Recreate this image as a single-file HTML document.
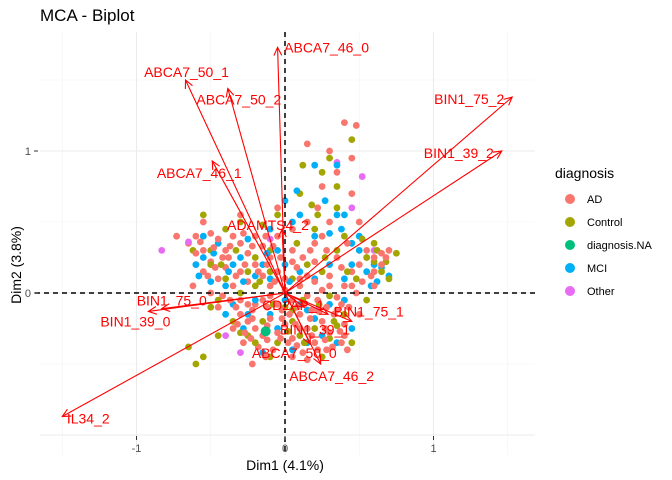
<!DOCTYPE html>
<html><head><meta charset="utf-8"><style>
body{margin:0;background:#fff;}
svg{display:block;font-family:"Liberation Sans",sans-serif;}
</style></head><body>
<svg id="chart" width="672" height="480" viewBox="0 0 672 480" xmlns="http://www.w3.org/2000/svg">
<text x="40" y="21" font-size="17" fill="#000">MCA - Biplot</text>
<g id="grid"></g>
<g id="points"></g>
<g id="refs"></g>
<g id="arrows"></g>
<g id="axes"></g>
<text x="285" y="470" font-size="14" text-anchor="middle" fill="#000">Dim1 (4.1%)</text>
<text x="0" y="0" font-size="14" text-anchor="middle" fill="#000" transform="translate(21,265) rotate(-90)">Dim2 (3.8%)</text>
<g id="legend">
<text x="555" y="178" font-size="14" fill="#000">diagnosis</text>
</g>
</svg>
<script>
const xTicks = [-1, 0, 1];
const yTicks = [0, 1];
const xMinor = [-1.5, -0.5, 0.5, 1.5];
const yMinor = [-0.5, 0.5, 1.5];
const groups = ["AD", "Control", "diagnosis.NA", "MCI", "Other"];
const groupColors = ["#F8766D", "#A3A500", "#00BF7D", "#00B0F6", "#E76BF3"];
const adPts = "-0.65,0.35;-0.6,0.4;-0.55,0.3;-0.5,0.42;-0.45,0.38;-0.4,0.3;-0.35,0.4;-0.3,0.35;-0.25,0.28;-0.2,0.4;-0.15,0.33;-0.1,0.25;-0.6,0.2;-0.55,0.15;-0.5,0.22;-0.45,0.1;-0.4,0.18;-0.35,0.05;-0.3,0.15;-0.25,0.08;-0.2,0.2;-0.15,0.12;-0.1,0.05;-0.05,0.15;-0.62,0.05;-0.5,0.0;-0.42,-0.02;-0.3,-0.05;-0.2,-0.08;-0.1,-0.02;0,0.02;0.05,-0.05;0.1,0.05;0.15,-0.02;0.2,0.08;0.25,0.02;0.3,0.12;0.35,-0.03;0.4,0.05;0.45,0.15;-0.3,-0.15;-0.25,-0.2;-0.2,-0.25;-0.15,-0.3;-0.1,-0.18;-0.05,-0.28;0,-0.22;0.05,-0.32;0.1,-0.15;0.15,-0.25;0.2,-0.35;0.25,-0.2;0.3,-0.28;0.35,-0.12;0.4,-0.22;-0.35,-0.25;-0.28,-0.35;-0.18,-0.38;-0.08,-0.4;0.02,-0.35;0.12,-0.42;0.22,-0.4;0.32,-0.38;0.4,-0.3;-0.12,-0.1;0.08,-0.1;0.18,-0.12;-0.22,-0.12;0.28,0.3;0.35,0.25;0.42,0.35;0.2,0.35;0.12,0.25;0.05,0.3;-0.05,0.4;0.05,0.45;0.15,0.5;0.3,0.5;0.55,0.3;0.6,0.25;0.65,0.2;0.7,0.3;0.5,0.2;0.58,0.12;0.25,0.75;0.35,0.85;0.45,0.95;0.3,1.0;0.15,1.05;0.4,1.2;0.48,1.18;-0.73,0.4;-0.55,0.5;-0.3,0.55;-0.05,0.6;0.22,0.6;0.5,0.5;0.45,0.7;-0.45,-0.1;0.5,-0.15;0.48,0.0;-0.6,0.28;-0.38,0.25;0.0,0.1;0.08,0.18;-0.02,-0.12;0.38,-0.08;0.6,0.05;0.05,-0.45;-0.22,-0.5;0.42,-0.4;0.28,-0.1;0.15,0.12;-0.27,-0.28;-0.12,-0.33;0.1,-0.25;0.27,-0.33;-0.33,-0.1;0.22,-0.05;0.68,0.25;-0.57,0.36;-0.48,0.32;-0.42,0.25;-0.37,0.33;-0.28,0.42;-0.22,0.33;-0.13,0.4;-0.08,0.33;-0.52,0.12;-0.47,0.18;-0.33,0.12;-0.27,0.2;-0.18,0.15;-0.12,0.2;-0.07,0.08;-0.37,-0.05;-0.25,-0.08;-0.15,-0.05;-0.05,-0.08;0.03,-0.15;0.13,-0.08;0.23,-0.13;0.33,-0.15;0.43,-0.1;-0.32,-0.22;-0.22,-0.18;-0.12,-0.23;-0.02,-0.18;0.07,-0.22;0.17,-0.18;0.27,-0.25;0.37,-0.27;-0.23,-0.32;-0.03,-0.32;0.08,-0.37;0.18,-0.3;0.28,-0.4;0.38,-0.35;-0.13,-0.45;0.15,-0.47;0.1,0.1;0.2,0.22;0.3,0.05;0.38,0.18;0.45,0.05;0.52,0.08;0.6,0.15;0.65,0.28;0.17,0.3;0.25,0.4;0.05,0.22;-0.03,0.25";
const controlPts = "-0.55,0.55;-0.5,0.3;-0.4,0.45;-0.3,0.5;-0.25,0.15;-0.15,0.48;-0.05,0.55;0.1,0.7;0.18,0.62;0.35,0.6;0.45,1.08;0.3,0.95;0.25,0.85;0.35,0.75;-0.5,-0.1;-0.35,-0.2;-0.25,-0.3;-0.55,-0.45;-0.65,-0.38;-0.6,-0.5;-0.45,-0.3;-0.15,-0.2;-0.05,-0.35;0.05,-0.2;0.1,-0.3;0.2,-0.25;0.3,-0.32;0.4,-0.15;0.45,-0.35;0.05,0.1;0.15,0.2;0.25,0.15;0.35,0.3;0.55,0.25;0.62,0.3;0.68,0.22;0.75,0.28;0.65,0.15;0.52,0.38;0.55,-0.05;0.48,0.1;0.2,0.45;-0.1,0.3;-0.2,0.05;-0.4,0.1;-0.5,0.2;-0.62,0.3;0.0,-0.1;0.12,-0.05;-0.3,0.0;0.3,-0.02;0.22,0.55;0.4,0.4;0.12,0.9;0.6,0.35;-0.1,-0.45;0.25,-0.45;-0.2,0.25;0.08,0.35;0.42,0.15;0.7,0.1;-0.45,-0.05;0.33,-0.2;-0.43,0.2;-0.33,0.3;-0.17,0.08;-0.08,-0.08;0.02,-0.27;0.13,-0.35;0.23,-0.08;0.35,-0.23;-0.2,-0.35;-0.3,-0.28;0.27,0.25;0.6,0.22;0.05,-0.12;-0.1,0.15";
const naPts = "-0.13,-0.27";
const mciPts = "-0.55,0.25;-0.45,0.35;-0.35,0.2;-0.25,0.38;-0.15,0.2;-0.05,0.3;0,0.65;0.05,0.5;0.1,0.55;0.2,0.4;0.3,0.42;0.35,0.55;0.5,0.4;0.38,0.45;0.65,0.18;0.7,0.12;0.6,0.2;0.55,0.15;0.5,0.3;0.45,0.2;0.4,0.1;0.3,0.2;0.2,0.1;0.1,0.15;0,0.2;-0.1,0.1;-0.2,0.12;-0.3,0.25;-0.4,0.05;-0.5,0.08;-0.58,0.12;-0.6,0.2;-0.2,-0.05;-0.1,-0.15;0,-0.05;0.1,-0.08;0.2,-0.18;0.3,-0.08;0.4,-0.05;0.45,-0.25;0.15,-0.35;-0.05,-0.25;-0.25,-0.15;-0.35,-0.08;0.35,-0.35;0.05,-0.4;0.2,0.9;0.35,0.9;0.08,0.72;0.4,0.55;-0.1,0.45;0.45,0.35;-0.55,0.4;0.27,0.65;0.58,0.05;-0.15,-0.42;-0.48,0.28;-0.38,0.15;-0.28,0.08;-0.12,0.28;0.03,0.08;0.15,-0.12;0.25,-0.3;-0.28,-0.25;-0.4,-0.15;0.62,0.08";
const otherPts = "-0.83,0.3;-0.65,0.36;0.55,0.25;0.35,0.92;0.45,0.6;0.52,0.82;0.22,-0.12;-0.3,-0.42;-0.4,-0.3;0.6,0.3;-0.1,0.38";
const varNames = ["ABCA7_46_0","ABCA7_50_1","ABCA7_50_2","BIN1_75_2","BIN1_39_2","ABCA7_46_1","ADAMTS4_2","BIN1_75_0","BIN1_39_0","CD2AP_1","BIN1_75_1","BIN1_39_1","ABCA7_50_0","ABCA7_46_2","IL34_2"];
const varX = [-0.05,-0.67,-0.385,1.53,1.46,-0.49,-0.02,-0.83,-0.92,0.13,0.45,0.29,0.17,0.24,-1.5];
const varY = [1.73,1.50,1.44,1.38,1.0,0.93,0.45,-0.11,-0.13,-0.1,-0.2,-0.15,-0.36,-0.5,-0.87];
// label offsets (px) relative to arrow tip — styling only
const labDx = [49,1,11,-43,-43,-13,-14,10,-13,-11,17,-13,-16,11,26];
const labDy = [0,-8,11,2,2,12,-4,-8,10,-2,-10,15,9,12,2];

const NS = "http://www.w3.org/2000/svg";
const X0 = 285, XS = 148.5, Y0 = 293, YS = 142;
const xs = v => X0 + v * XS;
const ys = v => Y0 - v * YS;
const P = {l:40, r:535, t:32, b:455};
function mk(tag, attrs, parent){ const e=document.createElementNS(NS,tag); for(const k in attrs) e.setAttribute(k,attrs[k]); parent.appendChild(e); return e; }
const parse = s => s.split(";").map(p => p.split(",").map(Number));

const grid = document.getElementById("grid");
xMinor.forEach(v=>{ const l=mk("line",{x1:xs(v),x2:xs(v),y1:P.t,y2:P.b,stroke:"#f2f2f2","stroke-width":0.6},grid);
   });
yMinor.forEach(v=>{ const l=mk("line",{x1:P.l,x2:P.r,y1:ys(v),y2:ys(v),stroke:"#f2f2f2","stroke-width":0.6},grid);
   });
xTicks.forEach(v=>{ const l=mk("line",{x1:xs(v),x2:xs(v),y1:P.t,y2:P.b,stroke:"#ebebeb","stroke-width":1.1},grid);
   });
yTicks.concat([-1]).forEach(v=>{ const l=mk("line",{x1:P.l,x2:P.r,y1:ys(v),y2:ys(v),stroke:"#ebebeb","stroke-width":1.1},grid);
   });

const series = [parse(adPts), parse(controlPts), parse(naPts), parse(mciPts), parse(otherPts)];
const pg = document.getElementById("points");
const maxLen = Math.max(...series.map(s=>s.length));
for(let i=0;i<maxLen;i++){
  [1,3,0,4].forEach(g=>{
    const p = series[g][i]; if(!p) return;
    const c = mk("circle",{cx:xs(p[0]),cy:ys(p[1]),r:3.4,fill:groupColors[g]},pg);
    
    
  });
}
series[2].forEach(p=>{ const c=mk("circle",{cx:xs(p[0]),cy:ys(p[1]),r:5,fill:groupColors[2]},pg);
   });

const refs = document.getElementById("refs");
const hl = mk("line",{x1:P.l-5,x2:P.r,y1:ys(0),y2:ys(0),stroke:"#000","stroke-width":1.5,"stroke-dasharray":"5,4"},refs);
 
const vl = mk("line",{x1:xs(0),x2:xs(0),y1:P.t,y2:P.b,stroke:"#000","stroke-width":1.5,"stroke-dasharray":"5,4"},refs);
 

const ag = document.getElementById("arrows");
varNames.forEach((n,i)=>{
  const g = mk("g",{},ag);
  
  
  const x1=xs(0), y1=ys(0), x2=xs(varX[i]), y2=ys(varY[i]);
  mk("line",{x1:x1,y1:y1,x2:x2,y2:y2,stroke:"#ff0000","stroke-width":1.1},g);
  const a = Math.atan2(y2-y1,x2-x1), L=9, w=0.45;
  const d = `M${x2-L*Math.cos(a-w)},${y2-L*Math.sin(a-w)} L${x2},${y2} L${x2-L*Math.cos(a+w)},${y2-L*Math.sin(a+w)}`;
  mk("path",{d:d,fill:"none",stroke:"#ff0000","stroke-width":1.1},g);
  const t = mk("text",{x:x2+labDx[i],y:y2+labDy[i]+5,"text-anchor":"middle","font-size":14,fill:"#ff0000"},g);
  t.textContent = n;
});

const ax = document.getElementById("axes");
xTicks.forEach(v=>{
  const t=mk("text",{x:xs(v),y:452,"text-anchor":"middle","font-size":11,fill:"#4d4d4d"},ax);
  t.textContent=v;  
  const k=mk("line",{x1:xs(v),x2:xs(v),y1:436,y2:440,stroke:"#333","stroke-width":1},ax);
   
});
yTicks.forEach(v=>{
  const t=mk("text",{x:31,y:ys(v)+4,"text-anchor":"end","font-size":11,fill:"#4d4d4d"},ax);
  t.textContent=v;  
  const k=mk("line",{x1:34,x2:38,y1:ys(v),y2:ys(v),stroke:"#333","stroke-width":1},ax);
   
});

const lg = document.getElementById("legend");
groups.forEach((n,i)=>{
  const y = 199 + i*23;
  const g = mk("g",{},lg);
  
  
  mk("circle",{cx:570,cy:y,r:5,fill:groupColors[i]},g);
  const t=mk("text",{x:587,y:y+4,"font-size":11,fill:"#000"},g);
  t.textContent=n;
});
</script>
</body></html>
